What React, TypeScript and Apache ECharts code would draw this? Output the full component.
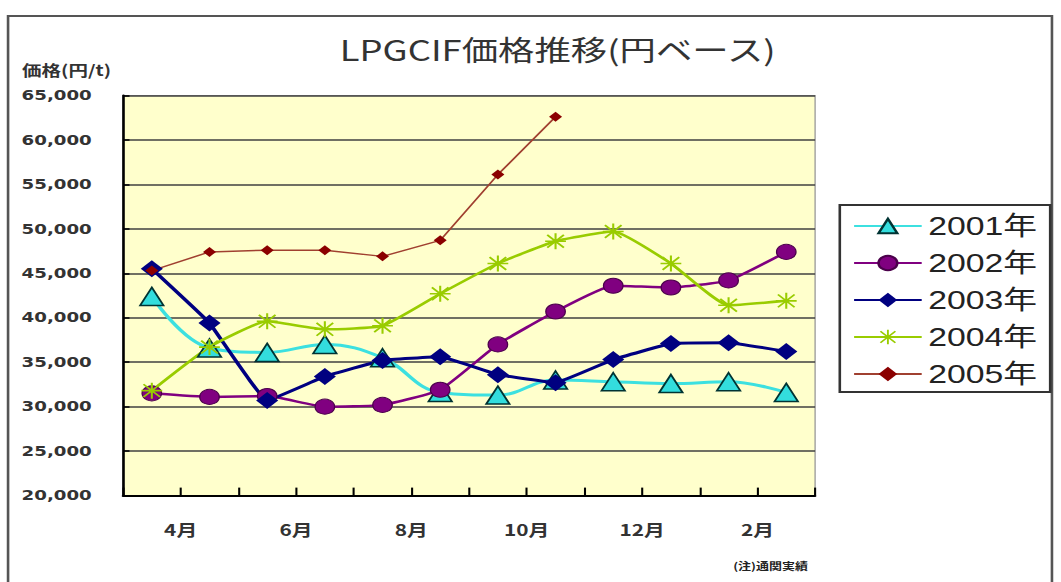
import React, { useEffect, useRef } from "react";
import * as echarts from "echarts";

// ---- data ----
const months = ["4月", "5月", "6月", "7月", "8月", "9月", "10月", "11月", "12月", "1月", "2月", "3月"];
const tickLabels = ["", "4月", "", "6月", "", "8月", "", "10月", "", "12月", "", "2月", ""];
const seriesNames = ["2001年", "2002年", "2003年", "2004年", "2005年"];
const y2001 = [42400, 36600, 36100, 37000, 35500, 31600, 31300, 33000, 32800, 32600, 32800, 31600];
const y2002 = [31500, 31100, 31200, 30000, 30200, 31900, 37000, 40700, 43600, 43400, 44200, 47400];
const y2003 = [45500, 39400, 30700, 33400, 35200, 35600, 33600, 32700, 35300, 37100, 37200, 36200];
const y2004 = [31800, 36700, 39600, 38700, 39100, 42700, 46100, 48600, 49700, 46100, 41400, 41900];
const y2005 = [45300, 47400, 47600, 47600, 46900, 48700, 56100, 62600, null, null, null, null];
const yTicks = { min: 20000, max: 65000, step: 5000 };

const titleText = "LPGCIF価格推移(円ベース)";
const yName = "価格(円/t)";
const sourceText = "(注)通関実績";

// horizontal stretch of the whole picture
const S = 1.3;
const W = 816;
const H = 582;

const ASTERISK =
  "path://M0,4.5H10V5.5H0Z M4.5,0H5.5V10H4.5Z M1.35,0.65L9.35,8.65L8.65,9.35L0.65,1.35Z M8.65,0.65L9.35,1.35L1.35,9.35L0.65,8.65Z";

export default function App() {
  const ref = useRef<HTMLDivElement>(null);
  useEffect(() => {
    document.body.style.margin = "0";
    const chart = echarts.init(ref.current!, undefined, { renderer: "svg", width: W, height: H });
    const jp = "'Noto Sans CJK JP', sans-serif";
    const option: any = {
      animation: false,
      backgroundColor: "#ffffff",
      title: {
        text: titleText,
        left: 424,
        top: 29,
        textAlign: "center",
        textStyle: { fontFamily: jp, fontSize: 28, fontWeight: "normal", color: "#333333" },
      },
      graphic: [
        {
          type: "rect",
          silent: true,
          shape: { x: 6.2, y: 16, width: 803, height: 600 },
          style: { fill: "none", stroke: "#555555", lineWidth: 2 },
        },
        {
          type: "text",
          silent: true,
          x: 17,
          y: 70,
          style: {
            text: yName,
            font: `bold 15px ${jp}`,
            fill: "#333333",
            textAlign: "left",
            textVerticalAlign: "middle",
          },
        },
        {
          type: "text",
          silent: true,
          x: 564,
          y: 566,
          style: {
            text: sourceText,
            font: `bold 10px ${jp}`,
            fill: "#222222",
            textAlign: "left",
            textVerticalAlign: "middle",
          },
        },
      ],
      legend: {
        orient: "vertical",
        left: 646,
        top: 205,
        padding: [8, 10, 5, 10],
        itemGap: 11,
        itemWidth: 52,
        itemHeight: 18,
        borderColor: "#333333",
        borderWidth: 2,
        backgroundColor: "#ffffff",
        selectedMode: false,
        data: seriesNames,
        textStyle: {
          fontFamily: "'Liberation Sans', 'Noto Sans CJK JP', sans-serif",
          fontSize: 26,
          lineHeight: 26,
          color: "#222222",
        },
      },
      grid: {
        left: 94.6,
        right: 189,
        top: 95.4,
        bottom: 86.4,
        show: true,
        backgroundColor: "#FFFFCC",
        borderColor: "#999999",
        borderWidth: 1,
      },
      xAxis: [
        {
          type: "category",
          data: months,
          boundaryGap: true,
          axisLine: { show: true, lineStyle: { color: "#000000", width: 2 } },
          axisTick: { show: true, inside: true, length: 8, lineStyle: { color: "#000000", width: 1.6 } },
          axisLabel: { show: false },
          splitLine: { show: false },
        },
        {
          type: "category",
          data: tickLabels,
          boundaryGap: false,
          position: "bottom",
          axisLine: { show: false },
          axisTick: { show: false },
          splitLine: { show: false },
          axisLabel: {
            interval: 0,
            margin: 25,
            fontFamily: jp,
            fontSize: 16,
            fontWeight: "bold",
            color: "#333333",
          },
        },
      ],
      yAxis: {
        type: "value",
        min: yTicks.min,
        max: yTicks.max,
        interval: yTicks.step,
        axisLine: { show: true, lineStyle: { color: "#000000", width: 2 } },
        axisTick: { show: true, inside: true, length: 5, lineStyle: { color: "#000000", width: 1.5 } },
        splitLine: { show: true, lineStyle: { color: "#404040", width: 1.5 } },
        axisLabel: {
          margin: 24,
          fontFamily: "'DejaVu Sans', sans-serif",
          fontWeight: "bold",
          fontSize: 14,
          color: "#333333",
          formatter: (v: number) => v.toLocaleString("en-US"),
        },
      },
      series: [
        {
          name: seriesNames[0],
          type: "line",
          data: y2001,
          smooth: 0.4,
          symbol: "triangle",
          symbolSize: 18,
          lineStyle: { color: "#3CE0E0", width: 3 },
          itemStyle: { color: "#33DDDD", borderColor: "#003333", borderWidth: 1.5 },
          emphasis: { disabled: true },
        },
        {
          name: seriesNames[1],
          type: "line",
          data: y2002,
          smooth: 0.15,
          symbol: "circle",
          symbolSize: 15,
          lineStyle: { color: "#800080", width: 2.5 },
          itemStyle: { color: "#800080", borderColor: "#4B004B", borderWidth: 1 },
          emphasis: { disabled: true },
        },
        {
          name: seriesNames[2],
          type: "line",
          data: y2003,
          smooth: 0.08,
          symbol: "diamond",
          symbolSize: 17,
          lineStyle: { color: "#000080", width: 3 },
          itemStyle: { color: "#000080" },
          emphasis: { disabled: true },
        },
        {
          name: seriesNames[3],
          type: "line",
          data: y2004,
          smooth: 0.15,
          symbol: ASTERISK,
          symbolSize: 16,
          lineStyle: { color: "#99CC00", width: 2.5 },
          itemStyle: { color: "#99CC00" },
          emphasis: { disabled: true },
        },
        {
          name: seriesNames[4],
          type: "line",
          data: y2005,
          smooth: false,
          symbol: "diamond",
          symbolSize: 10,
          lineStyle: { color: "#A04030", width: 1.5 },
          itemStyle: { color: "#8B0000" },
          emphasis: { disabled: true },
        },
      ],
    };
    chart.setOption(option);
    return () => chart.dispose();
  }, []);
  return (
    <div style={{ width: 1061, height: H, overflow: "hidden" }}>
      <div
        ref={ref}
        style={{ width: W, height: H, transform: `scaleX(${S})`, transformOrigin: "0 0" }}
      />
    </div>
  );
}
